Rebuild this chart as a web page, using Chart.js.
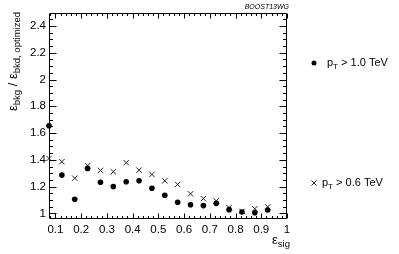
<!DOCTYPE html>
<html>
<head>
<meta charset="utf-8">
<script src="https://cdn.jsdelivr.net/npm/chart.js@4/dist/chart.umd.min.js"></script>
<style>
html,body{margin:0;padding:0;background:#fff;}
#c{display:block;}
</style>
</head>
<body>
<canvas id="c" width="399" height="254"></canvas>
<script>
// ---- data ----
const effSig = [0.075,0.125,0.175,0.225,0.275,0.325,0.375,0.425,0.475,0.525,0.575,0.625,0.675,0.725,0.775,0.825,0.875,0.925];
const ratioPt10 = [1.655,1.286,1.105,1.336,1.233,1.200,1.236,1.243,1.188,1.135,1.083,1.065,1.058,1.075,1.028,1.010,1.005,1.025];
const ratioPt06 = [1.410,1.386,1.263,1.356,1.321,1.311,1.379,1.323,1.291,1.243,1.216,1.146,1.110,1.093,1.043,1.015,1.035,1.048];
const xTicks = [0.1,0.2,0.3,0.4,0.5,0.6,0.7,0.8,0.9,1];
const yTicks = [1,1.2,1.4,1.6,1.8,2,2.2,2.4];
const seriesLabels = ["1.0 TeV","0.6 TeV"];

const FONT = "'Liberation Sans', Arial, Helvetica, sans-serif";

function pts(xs, ys){ return xs.map((x,i)=>({x:x,y:ys[i]})); }
function fmt(v){ return String(Math.round(v*10)/10); }

const decor = {
  id:'decor',
  afterDraw(chart){
    const ctx = chart.ctx, a = chart.chartArea;
    const xs = chart.scales.x, ys = chart.scales.y;
    ctx.save();
    ctx.strokeStyle = '#000';
    ctx.lineWidth = 1;
    // frame
    const L = Math.round(a.left)+0.5, R = Math.round(a.right)-0.5, T = Math.round(a.top)+0.5, B = Math.round(a.bottom)-0.5;
    ctx.beginPath();
    ctx.rect(L, T, R-L, B-T);
    ctx.stroke();
    // x ticks (inward, bottom & top)
    ctx.beginPath();
    for (let k=4; k<=50; k++){
      const v = k*0.02;
      if (v < xs.min-1e-9 || v > xs.max+1e-9) continue;
      const px = Math.round(xs.getPixelForValue(v))+0.5;
      const major = (k%5===0);
      const len = major ? 5 : 2.5;
      ctx.moveTo(px, B); ctx.lineTo(px, B-len);
      ctx.moveTo(px, T); ctx.lineTo(px, T+len);
    }
    // y ticks (inward, left & right)
    for (let k=20; k<=50; k++){
      const v = k*0.05;
      if (v < ys.min-1e-9 || v > ys.max+1e-9) continue;
      const py = Math.round(ys.getPixelForValue(v))+0.5;
      const major = (k%4===0);
      const len = major ? 7 : 3.5;
      ctx.moveTo(L, py); ctx.lineTo(L+len, py);
      ctx.moveTo(R, py); ctx.lineTo(R-len, py);
    }
    ctx.stroke();

    ctx.fillStyle = '#000';
    ctx.textBaseline = 'alphabetic';
    function runs(parts, x, y, align){
      let w = 0;
      parts.forEach(p=>{ ctx.font = p[1]+'px '+FONT; w += ctx.measureText(p[0]).width; });
      let cx = align==='right' ? x - w : x;
      parts.forEach(p=>{ ctx.font = p[1]+'px '+FONT; ctx.fillText(p[0], cx, y + p[2]); cx += ctx.measureText(p[0]).width; });
    }
    ctx.textAlign = 'left';
    // x title
    runs([['\u03B5',13,0],['sig',9.5,3]], 290, 244, 'right');
    // y title (rotated)
    ctx.save();
    ctx.translate(17, 12);
    ctx.rotate(-Math.PI/2);
    runs([['\u03B5',13,0],['bkg',9.5,3],[' / \u03B5',13,0],['bkd, optimized',9.5,3]], 0, 0, 'right');
    ctx.restore();
    // watermark
    ctx.font = 'italic 7px '+FONT;
    ctx.textAlign = 'right';
    ctx.fillText('BOOST13WG', 289, 9);
    ctx.textAlign = 'left';
    // legend
    const ds = chart.data.datasets;
    ctx.beginPath();
    ctx.arc(314, 63, 2.5, 0, Math.PI*2);
    ctx.fillStyle = ds[0].backgroundColor;
    ctx.fill();
    ctx.fillStyle = '#000';
    runs([['p',11,0],['T',8,3],[' > '+seriesLabels[0],11,0]], 327, 66, 'left');
    ctx.beginPath();
    ctx.strokeStyle = ds[1].borderColor;
    ctx.moveTo(311.5,180.5); ctx.lineTo(316.5,185.5);
    ctx.moveTo(316.5,180.5); ctx.lineTo(311.5,185.5);
    ctx.stroke();
    runs([['p',11,0],['T',8,3],[' > '+seriesLabels[1],11,0]], 322, 186, 'left');
    ctx.restore();
  }
};

new Chart(document.getElementById('c'), {
  type: 'scatter',
  data: {
    datasets: [
      { label: 'pT > '+seriesLabels[0], data: pts(effSig, ratioPt10), pointStyle: 'circle', pointRadius: 2.8, backgroundColor: '#000', borderColor: '#000', borderWidth: 0, clip: false },
      { label: 'pT > '+seriesLabels[1], data: pts(effSig, ratioPt06), pointStyle: 'crossRot', pointRadius: 3.8, backgroundColor: '#222', borderColor: '#222', borderWidth: 1, clip: false }
    ]
  },
  options: {
    responsive: false,
    animation: false,
    devicePixelRatio: 1,
    layout: { padding: { left: 0, top: 13, right: 112, bottom: 0 } },
    plugins: { legend: { display: false }, tooltip: { enabled: false } },
    scales: {
      x: {
        type: 'linear', min: 0.075, max: 1,
        grid: { display: false, drawTicks: false },
        border: { display: false },
        afterBuildTicks: s => { s.ticks = xTicks.map(v=>({value:v})); },
        afterFit: s => { s.height = 35; },
        ticks: { callback: v => fmt(v), color: '#000', padding: 4, maxRotation: 0, autoSkip: false, font: { family: FONT, size: 11.5 } }
      },
      y: {
        type: 'linear', min: 0.958, max: 2.497,
        grid: { display: false, drawTicks: false },
        border: { display: false },
        afterBuildTicks: s => { s.ticks = yTicks.map(v=>({value:v})); },
        afterFit: s => { s.width = 49; },
        ticks: { callback: v => fmt(v), color: '#000', padding: 3, autoSkip: false, font: { family: FONT, size: 11.5 } }
      }
    }
  },
  plugins: [decor]
});
</script>
</body>
</html>
